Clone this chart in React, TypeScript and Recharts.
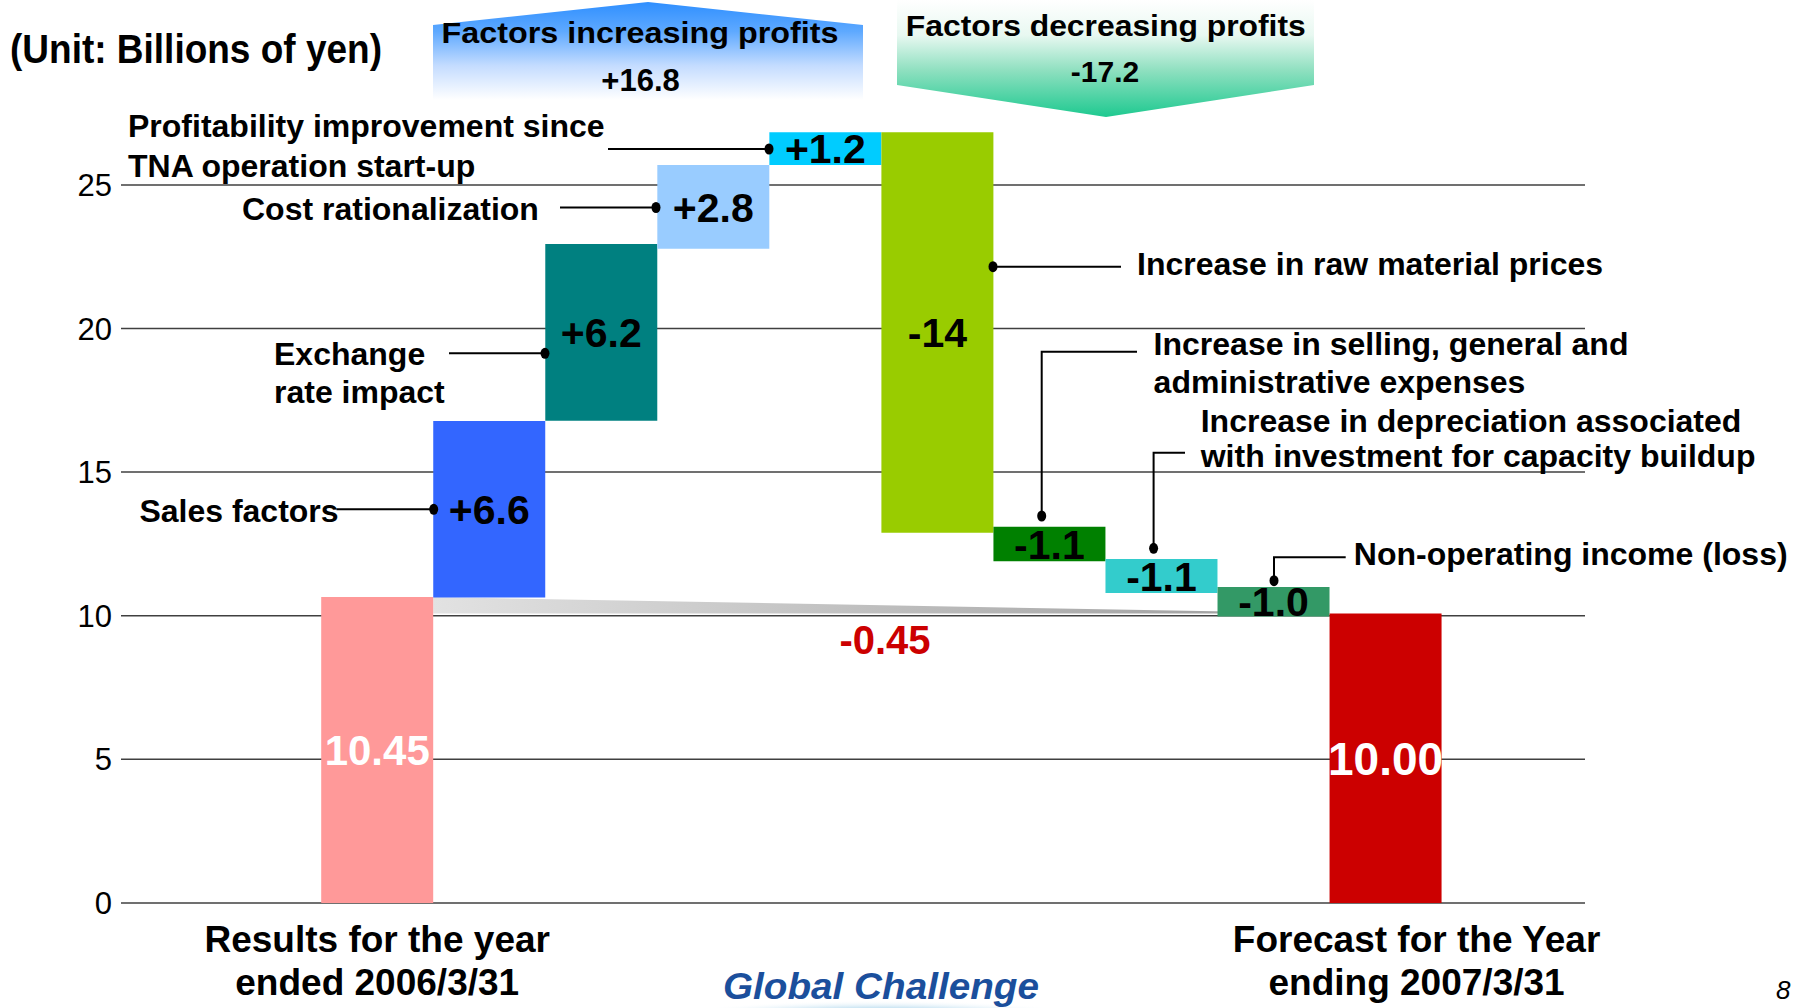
import {
  ComposedChart, Bar, Cell, XAxis, YAxis, CartesianGrid, ReferenceArea, LabelList,
} from 'recharts';

// Valeurs (milliards de yens)
const CATEGORIES = [
  'FY2006', 'Sales', 'Exchange', 'Cost', 'TNA',
  'RawMaterial', 'SGA', 'Depreciation', 'NonOperating', 'FY2007',
];
const BAR_LOW = [0, 10.63, 16.79, 22.78, 25.69, 12.89, 11.9, 10.79, 9.97, 0];
const BAR_HIGH = [10.65, 16.78, 22.94, 25.69, 26.83, 26.83, 13.1, 11.97, 11.0, 10.08];
const BAR_LABELS = ['10.45', '+6.6', '+6.2', '+2.8', '+1.2', '-14', '-1.1', '-1.1', '-1.0', '10.00'];
const BAR_COLORS = [
  '#ff9999', '#3366ff', '#008080', '#99ccff', '#00ccff',
  '#99cc00', '#008000', '#33cccc', '#339966', '#cc0000',
];
const X_LABELS: string[][] = [
  ['Results for the year', 'ended 2006/3/31'],
  [], [], [], [], [], [], [], [],
  ['Forecast for the Year', 'ending 2007/3/31'],
];
const Y_TICKS = [0, 5, 10, 15, 20, 25];

// Mise en page
const W = 1800;
const H = 1008;
const PLOT_LEFT = 121;
const PLOT_RIGHT = 1585;
const PLOT_TOP = 41.3;
const X_AXIS_H = 105.1;
const FONT = '"Liberation Sans", Arial, Helvetica, sans-serif';

const chartData = CATEGORIES.map((name, i) => ({
  name,
  range: [BAR_LOW[i], BAR_HIGH[i]],
  label: BAR_LABELS[i],
}));

function XTick(props: any) {
  const { x, y, payload } = props;
  const idx = CATEGORIES.indexOf(payload.value);
  const lines = X_LABELS[idx] ?? [];
  const dx = idx === CATEGORIES.length - 1 ? 31 : 0;
  return (
    <text textAnchor="middle" fontFamily={FONT} fontWeight="bold" fontSize={37} fill="#000">
      {lines.map((l, i) => (
        <tspan key={i} x={x + dx} y={y + 49 + i * 43.5}>{l}</tspan>
      ))}
    </text>
  );
}

function YTick(props: any) {
  const { y, payload } = props;
  return (
    <text x={PLOT_LEFT - 9} y={y} dy={11} textAnchor="end" fontFamily={FONT} fontSize={31} fill="#000">
      {payload.value}
    </text>
  );
}

function BarLabel(props: any) {
  const vb = props.viewBox ?? props;
  const x = vb.x ?? props.x;
  const w = vb.width ?? props.width;
  const y0 = vb.y ?? props.y;
  const h0 = vb.height ?? props.height;
  const top = Math.min(y0, y0 + h0);
  const h = Math.abs(h0);
  const i = props.index;
  const total = i === 0 || i === CATEGORIES.length - 1;
  const size = i === 0 ? 42 : i === CATEGORIES.length - 1 ? 46 : 41;
  return (
    <text
      x={x + w / 2}
      y={top + h / 2 + size * 0.358}
      textAnchor="middle"
      fontFamily={FONT}
      fontWeight="bold"
      fontSize={size}
      fill={total ? '#fff' : '#000'}
    >
      {BAR_LABELS[i]}
    </text>
  );
}

// Triangle gris entre les deux totaux (-0.45)
function Wedge(props: any) {
  const { x, y, width, height } = props;
  return (
    <g>
      <defs>
        <linearGradient id="wedgeFill" x1="0" y1="0" x2="1" y2="0">
          <stop offset="0" stopColor="#e2e2e2" />
          <stop offset="1" stopColor="#9a9a9a" />
        </linearGradient>
      </defs>
      <polygon
        points={`${x},${y} ${x},${y + height} ${x + width},${y + height}`}
        fill="url(#wedgeFill)"
      />
    </g>
  );
}

function Leader({ points }: { points: [number, number][] }) {
  const dot = points[points.length - 1];
  return (
    <g>
      <polyline points={points.map((p) => p.join(',')).join(' ')} fill="none" stroke="#000" strokeWidth={2} />
      <ellipse cx={dot[0]} cy={dot[1]} rx={4.5} ry={5.5} fill="#000" />
    </g>
  );
}

function Label({ x, y, children, size = 32, anchor = 'start', len, color = '#000', style }: any) {
  return (
    <text
      x={x}
      y={y}
      fontFamily={FONT}
      fontWeight="bold"
      fontSize={size}
      textAnchor={anchor}
      fill={color}
      textLength={len}
      lengthAdjust={len ? 'spacingAndGlyphs' : undefined}
      style={style}
    >
      {children}
    </text>
  );
}

function Annotations() {
  return (
    <svg width={W} height={H} style={{ position: 'absolute', left: 0, top: 0, pointerEvents: 'none' }}>
      <defs>
        <linearGradient id="upFill" gradientUnits="userSpaceOnUse" x1="0" y1="2" x2="0" y2="100">
          <stop offset="0" stopColor="#2f8fff" />
          <stop offset="0.3" stopColor="#5ea9ff" />
          <stop offset="0.65" stopColor="#c4dcff" />
          <stop offset="1" stopColor="#ffffff" />
        </linearGradient>
        <linearGradient id="downFill" gradientUnits="userSpaceOnUse" x1="0" y1="0" x2="0" y2="117">
          <stop offset="0" stopColor="#ffffff" />
          <stop offset="0.3" stopColor="#e8f8f1" />
          <stop offset="0.6" stopColor="#8fe0c0" />
          <stop offset="1" stopColor="#1ec990" />
        </linearGradient>
        <radialGradient id="swoosh" cx="0.5" cy="0.5" r="0.5">
          <stop offset="0" stopColor="#8ec3e3" />
          <stop offset="0.7" stopColor="#b9dcef" />
          <stop offset="1" stopColor="#ffffff" stopOpacity="0" />
        </radialGradient>
      </defs>

      <Label x={10} y={63} size={40} len={372}>(Unit: Billions of yen)</Label>

      <polygon points="433,25 648,2 863,25 863,100 433,100" fill="url(#upFill)" />
      <Label x={640} y={43.3} size={29} anchor="middle" len={397}>Factors increasing  profits</Label>
      <Label x={640.6} y={90.7} size={31} anchor="middle">+16.8</Label>

      <polygon points="897,0 1314,0 1314,85 1106,117 897,85" fill="url(#downFill)" />
      <Label x={1105.8} y={35.7} size={29} anchor="middle" len={400}>Factors decreasing profits</Label>
      <Label x={1105} y={81.7} size={30} anchor="middle">-17.2</Label>

      <Label x={128} y={137.3}>Profitability improvement since</Label>
      <Label x={128} y={176.7}>TNA operation start-up</Label>
      <Leader points={[[608, 149], [769, 149]]} />

      <Label x={242} y={220}>Cost rationalization</Label>
      <Leader points={[[560, 207.5], [656, 207.5]]} />

      <Label x={274} y={365}>Exchange</Label>
      <Label x={274} y={403.3}>rate impact</Label>
      <Leader points={[[449, 353.3], [545, 353.3]]} />

      <Label x={139.4} y={521.7}>Sales factors</Label>
      <Leader points={[[336.5, 509.3], [433.7, 509.3]]} />

      <Label x={1137} y={275}>Increase in raw material prices</Label>
      <Leader points={[[1121, 266.7], [993, 266.7]]} />

      <Label x={1153.6} y={355}>Increase in selling, general and</Label>
      <Label x={1153.6} y={393.3}>administrative expenses</Label>
      <Leader points={[[1137, 351.7], [1041.7, 351.7], [1041.7, 516]]} />

      <Label x={1200.7} y={432.3}>Increase in depreciation associated</Label>
      <Label x={1200.7} y={467.3}>with investment for capacity buildup</Label>
      <Leader points={[[1185, 452.7], [1153.6, 452.7], [1153.6, 548.3]]} />

      <Label x={1353.8} y={565}>Non-operating income (loss)</Label>
      <Leader points={[[1345.7, 557.3], [1274, 557.3], [1274, 580.7]]} />

      <Label x={885} y={654} size={40} anchor="middle" color="#cc0000">-0.45</Label>

      <ellipse cx={880} cy={1030} rx={260} ry={30} fill="url(#swoosh)" />
      <Label x={723} y={999} size={37} len={316} color="#1b4f9c" style={{ fontStyle: 'italic' }}>Global Challenge</Label>
      <text x={1776} y={999} fontFamily={FONT} fontSize={26} fontStyle="italic" fill="#000">8</text>
    </svg>
  );
}

export default function App() {
  return (
    <div style={{ position: 'absolute', left: 0, top: 0, width: W, height: H, overflow: 'hidden', background: '#fff' }}>
      <ComposedChart
        width={W}
        height={H}
        data={chartData}
        margin={{ top: PLOT_TOP, right: W - PLOT_RIGHT, bottom: 0, left: 0 }}
        barCategoryGap={0}
        barGap={0}
      >
        <CartesianGrid vertical={false} horizontalValues={Y_TICKS} stroke="#404040" strokeWidth={1.5} />
        <XAxis
          dataKey="name"
          type="category"
          height={X_AXIS_H}
          padding={{ left: 200.2, right: 143.4 }}
          axisLine={false}
          tickLine={false}
          tickSize={0}
          tickMargin={0}
          interval={0}
          tick={<XTick />}
        />
        <YAxis
          type="number"
          domain={[0, 30]}
          ticks={Y_TICKS}
          width={PLOT_LEFT}
          axisLine={false}
          tickLine={false}
          tick={<YTick />}
        />
        <ReferenceArea
          x1={CATEGORIES[1]}
          x2={CATEGORIES[8]}
          y1={BAR_HIGH[9]}
          y2={BAR_HIGH[0]}
          ifOverflow="visible"
          shape={(p: any) => <Wedge {...p} />}
        />
        <Bar dataKey="range" isAnimationActive={false}>
          {chartData.map((d, i) => (
            <Cell key={d.name} fill={BAR_COLORS[i]} />
          ))}
          <LabelList dataKey="label" content={<BarLabel />} />
        </Bar>
      </ComposedChart>
      <Annotations />
    </div>
  );
}
